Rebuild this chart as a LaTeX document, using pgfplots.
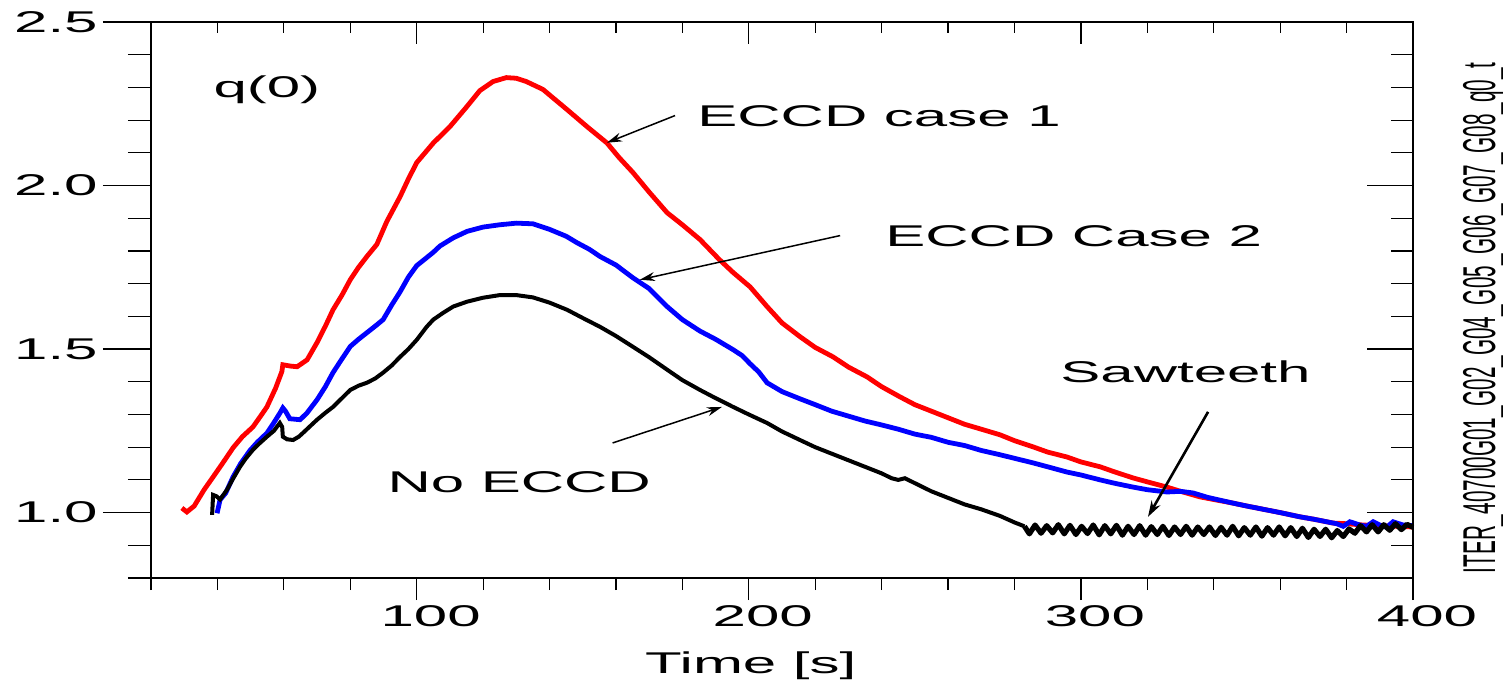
\documentclass[border=0pt]{standalone}
\usepackage{fontspec}
\setmainfont{Liberation Sans}[FakeStretch=2]
\newfontfamily\narrowfont{Liberation Sans}[FakeStretch=0.45]
\usepackage{pgfplots}
\pgfplotsset{compat=1.18}
\usetikzlibrary{arrows.meta}
\newcommand\bigf{\fontsize{15}{18}\selectfont}

\pgfplotstableread{
x y
29.3 1.014
30.8 1.002
33 1.02
36 1.07
38.7 1.109
41.5 1.15
44.7 1.198
47.5 1.232
50.7 1.262
53 1.295
54.9 1.323
57.5 1.38
59.4 1.431
59.7 1.452
62 1.448
64 1.446
67 1.467
70 1.52
72.5 1.57
74.8 1.62
77.5 1.665
80 1.712
82.5 1.75
85 1.783
88 1.82
91 1.89
95 1.966
97.5 2.02
100 2.07
105 2.13
110 2.18
115 2.24
119 2.29
123 2.318
127 2.33
130 2.328
133 2.318
138 2.294
142 2.26
145.3 2.232
151.3 2.18
157.3 2.13
161 2.085
165.1 2.04
170 1.98
175.4 1.917
180 1.88
185.3 1.835
191 1.775
195.3 1.734
200.4 1.69
205.5 1.63
210 1.58
215.4 1.538
220 1.505
225.4 1.476
230 1.445
235.6 1.415
240 1.385
245.5 1.354
250 1.33
255 1.31
260 1.29
265 1.27
270 1.255
275.6 1.238
280 1.22
285.6 1.201
290 1.185
295.8 1.17
300 1.155
305.8 1.14
310 1.125
315.7 1.106
320 1.094
325.9 1.078
330 1.065
335.9 1.048
340 1.04
345.8 1.029
350 1.02
356 1.008
360 1.0
366 0.987
370 0.98
375.9 0.968
380 0.966
385 0.962
390 0.96
395 0.958
400 0.956
}\redtab

\pgfplotstableread{
x y
39.9 0.998
40.8 1.039
42.5 1.06
44.7 1.109
47 1.15
49.8 1.19
52 1.215
54.9 1.243
57 1.275
58.8 1.304
59.7 1.32
60.5 1.31
61.8 1.287
64.9 1.284
67 1.305
70 1.345
72.5 1.385
74.8 1.428
77.5 1.47
80 1.508
82.5 1.53
85 1.55
87.5 1.57
89.9 1.59
92.5 1.635
95 1.675
97.5 1.72
100 1.755
104.9 1.795
107 1.815
111 1.84
115.2 1.86
120 1.873
125 1.88
130 1.885
135 1.883
140 1.866
145 1.845
148.3 1.825
152 1.805
155.2 1.783
160 1.757
165.1 1.718
170 1.685
175.4 1.63
180 1.59
185.3 1.555
190 1.53
195.3 1.498
198 1.48
200.4 1.455
203 1.43
205.5 1.397
210 1.37
215.4 1.348
220 1.33
225 1.31
230 1.295
235 1.28
240 1.268
245 1.255
250 1.24
255 1.23
260 1.215
265 1.205
270 1.19
275.6 1.177
280 1.166
285.6 1.152
290 1.14
295.8 1.124
300 1.115
305.8 1.10
310 1.09
315.7 1.078
320 1.07
325.9 1.063
330 1.065
333.8 1.06
338 1.047
341 1.04
345.8 1.029
350 1.02
356 1.008
360 1.0
366 0.987
370 0.98
374 0.972
377 0.966
379 0.958
381 0.972
384 0.962
386 0.958
388 0.972
390 0.962
392 0.955
394 0.972
397 0.962
400 0.96
}\bluetab

\pgfplotstableread{
x y
38.4 0.993
38.7 1.054
39.7 1.05
40.8 1.04
42.9 1.07
44.5 1.10
46.8 1.14
48.5 1.165
50.7 1.192
52.5 1.21
54.9 1.232
57 1.25
58.8 1.274
59.5 1.262
59.7 1.232
61 1.224
62.8 1.222
64.5 1.232
65.8 1.244
68 1.265
70 1.284
72.5 1.305
74.8 1.323
77.5 1.35
80 1.375
82.5 1.388
85 1.397
87.5 1.41
89.9 1.428
92.5 1.45
95 1.476
97.5 1.50
100 1.528
103 1.568
105 1.59
108 1.611
111 1.63
115.2 1.645
120 1.657
125 1.665
130 1.665
135 1.658
140 1.642
145.3 1.62
150 1.595
155.2 1.568
160 1.54
165.1 1.507
170 1.475
175.4 1.437
180 1.405
185.3 1.375
190 1.35
195.3 1.323
200 1.30
205.5 1.274
210 1.248
215.4 1.222
220 1.20
225 1.18
230 1.16
235 1.14
240 1.12
243 1.105
245 1.10
247 1.105
250 1.09
255 1.065
260 1.045
265 1.025
270 1.01
275.6 0.99
280 0.97
283 0.958
}\blacktab

\pgfplotstableread{
x y
283 0.958
284.5 0.935
286.2 0.962
288 0.937
289.7 0.96
291.5 0.938
293.2 0.963
295 0.935
296.7 0.961
298.5 0.933
300.2 0.958
302 0.936
303.7 0.962
305.5 0.932
307.2 0.96
309 0.935
310.7 0.961
312.5 0.931
314.2 0.958
316 0.933
317.7 0.96
319.5 0.931
321.2 0.957
323 0.933
324.7 0.958
326.5 0.93
328.2 0.956
330 0.933
331.7 0.958
333.5 0.931
335.2 0.956
337 0.933
338.7 0.956
340.5 0.93
342.2 0.955
344 0.931
345.7 0.958
347.5 0.929
349.2 0.954
351 0.931
352.7 0.956
354.5 0.928
356.2 0.954
358 0.931
359.7 0.956
361.5 0.929
363.2 0.954
365 0.927
366.7 0.952
368.5 0.924
370.2 0.949
372 0.927
373.7 0.949
375.5 0.923
377.2 0.945
379 0.927
380.7 0.95
382.5 0.937
384.2 0.96
386 0.941
387.7 0.963
389.5 0.941
391.2 0.963
393 0.946
394.7 0.966
396.5 0.948
398.2 0.964
400 0.955
}\sawtab

\pgfplotsset{
  base/.style={
    at={(0,0)}, anchor=south west,
    width=631pt, height=278pt, scale only axis,
    xmin=20, xmax=400, ymin=0.8, ymax=2.5,
    axis line style={line width=0.8pt},
    every tick/.style={black, line width=0.6pt},
    clip=false,
    /pgf/number format/assume math mode=true,
  }
}

\begin{document}
\begin{tikzpicture}
% bottom x ticks (outside)
\begin{axis}[base, name=ax,
  xtick={100,200,300,400}, minor xtick={20,40,...,400},
  xtick pos=left, ytick=\empty, tick align=outside,
  major tick length=11pt, minor tick length=6pt,
  xticklabel style={font=\bigf, inner sep=0pt, anchor=north, xshift=7pt, yshift=-2.5pt},
]
\addplot[red, line width=2.4pt] table {\redtab};
\addplot[blue, line width=2.4pt] table {\bluetab};
\addplot[black, line width=2pt] table {\blacktab};
\addplot[black, line width=2.6pt, line join=round] table {\sawtab};

\node[font=\bigf, anchor=base west, inner sep=0pt] at (axis cs:38.7,2.269) {q(0)};
\node[font=\bigf, anchor=base west, inner sep=0pt] at (axis cs:184.4,2.180) {ECCD case 1};
\node[font=\bigf, anchor=base west, inner sep=0pt] at (axis cs:241.0,1.813) {ECCD Case 2};
\node[font=\bigf, anchor=base west, inner sep=0pt] at (axis cs:293.7,1.397) {Sawteeth};
\node[font=\bigf, anchor=base west, inner sep=0pt] at (axis cs:91.1,1.060) {No ECCD};
\node[font=\bigf, anchor=base west, inner sep=0pt] at (axis cs:168.7,0.509) {Time [s]};
\node[font=\narrowfont\fontsize{23}{26}\selectfont, rotate=90, anchor=base, inner sep=0pt] at (axis cs:424.7,1.596) {ITER\_40700G01\_G02\_G04\_G05\_G06\_G07\_G08\_q0\_t};

\draw[line width=0.75pt, -{Stealth[length=7.5pt, width=4.5pt]}] (axis cs:177.8,2.214) -- (axis cs:157.3,2.131);
\draw[line width=0.75pt, -{Stealth[length=7.5pt, width=4.5pt]}] (axis cs:227.5,1.847) -- (axis cs:167.2,1.712);
\draw[line width=0.75pt, -{Stealth[length=7.5pt, width=4.5pt]}] (axis cs:159.0,1.213) -- (axis cs:191.9,1.323);
\draw[line width=1.3pt, -{Stealth[length=8pt, width=5pt]}] (axis cs:338.3,1.308) -- (axis cs:320.2,0.987);
\end{axis}
% left y ticks (outside)
\begin{axis}[base,
  ytick={1.0,1.5,2.0,2.5}, minor ytick={0.8,0.9,...,2.45},
  ytick pos=left, xtick=\empty, tick align=outside,
  major tick length=24pt, minor tick length=11.5pt,
  yticklabel style={font=\bigf, inner sep=0pt, anchor=east, xshift=-2.5pt,
    /pgf/number format/.cd, fixed, fixed zerofill, precision=1},
]
\end{axis}
% top x ticks (inside)
\begin{axis}[base,
  xtick={100,200,300,400}, minor xtick={20,40,...,400},
  xtick pos=right, ytick=\empty, tick align=inside, xticklabels={},
  major tick length=11pt, minor tick length=5.5pt,
]
\end{axis}
% right y ticks (inside)
\begin{axis}[base,
  ytick={1.0,1.5,2.0,2.5}, minor ytick={0.8,0.9,...,2.45},
  ytick pos=right, xtick=\empty, tick align=inside, yticklabels={},
  major tick length=23pt, minor tick length=11pt,
]
\end{axis}
\pgfresetboundingbox
\path[use as bounding box] (ax.south west) ++(-75.5pt,-52pt) rectangle ++(751.5pt,341pt);
\end{tikzpicture}
\end{document}
